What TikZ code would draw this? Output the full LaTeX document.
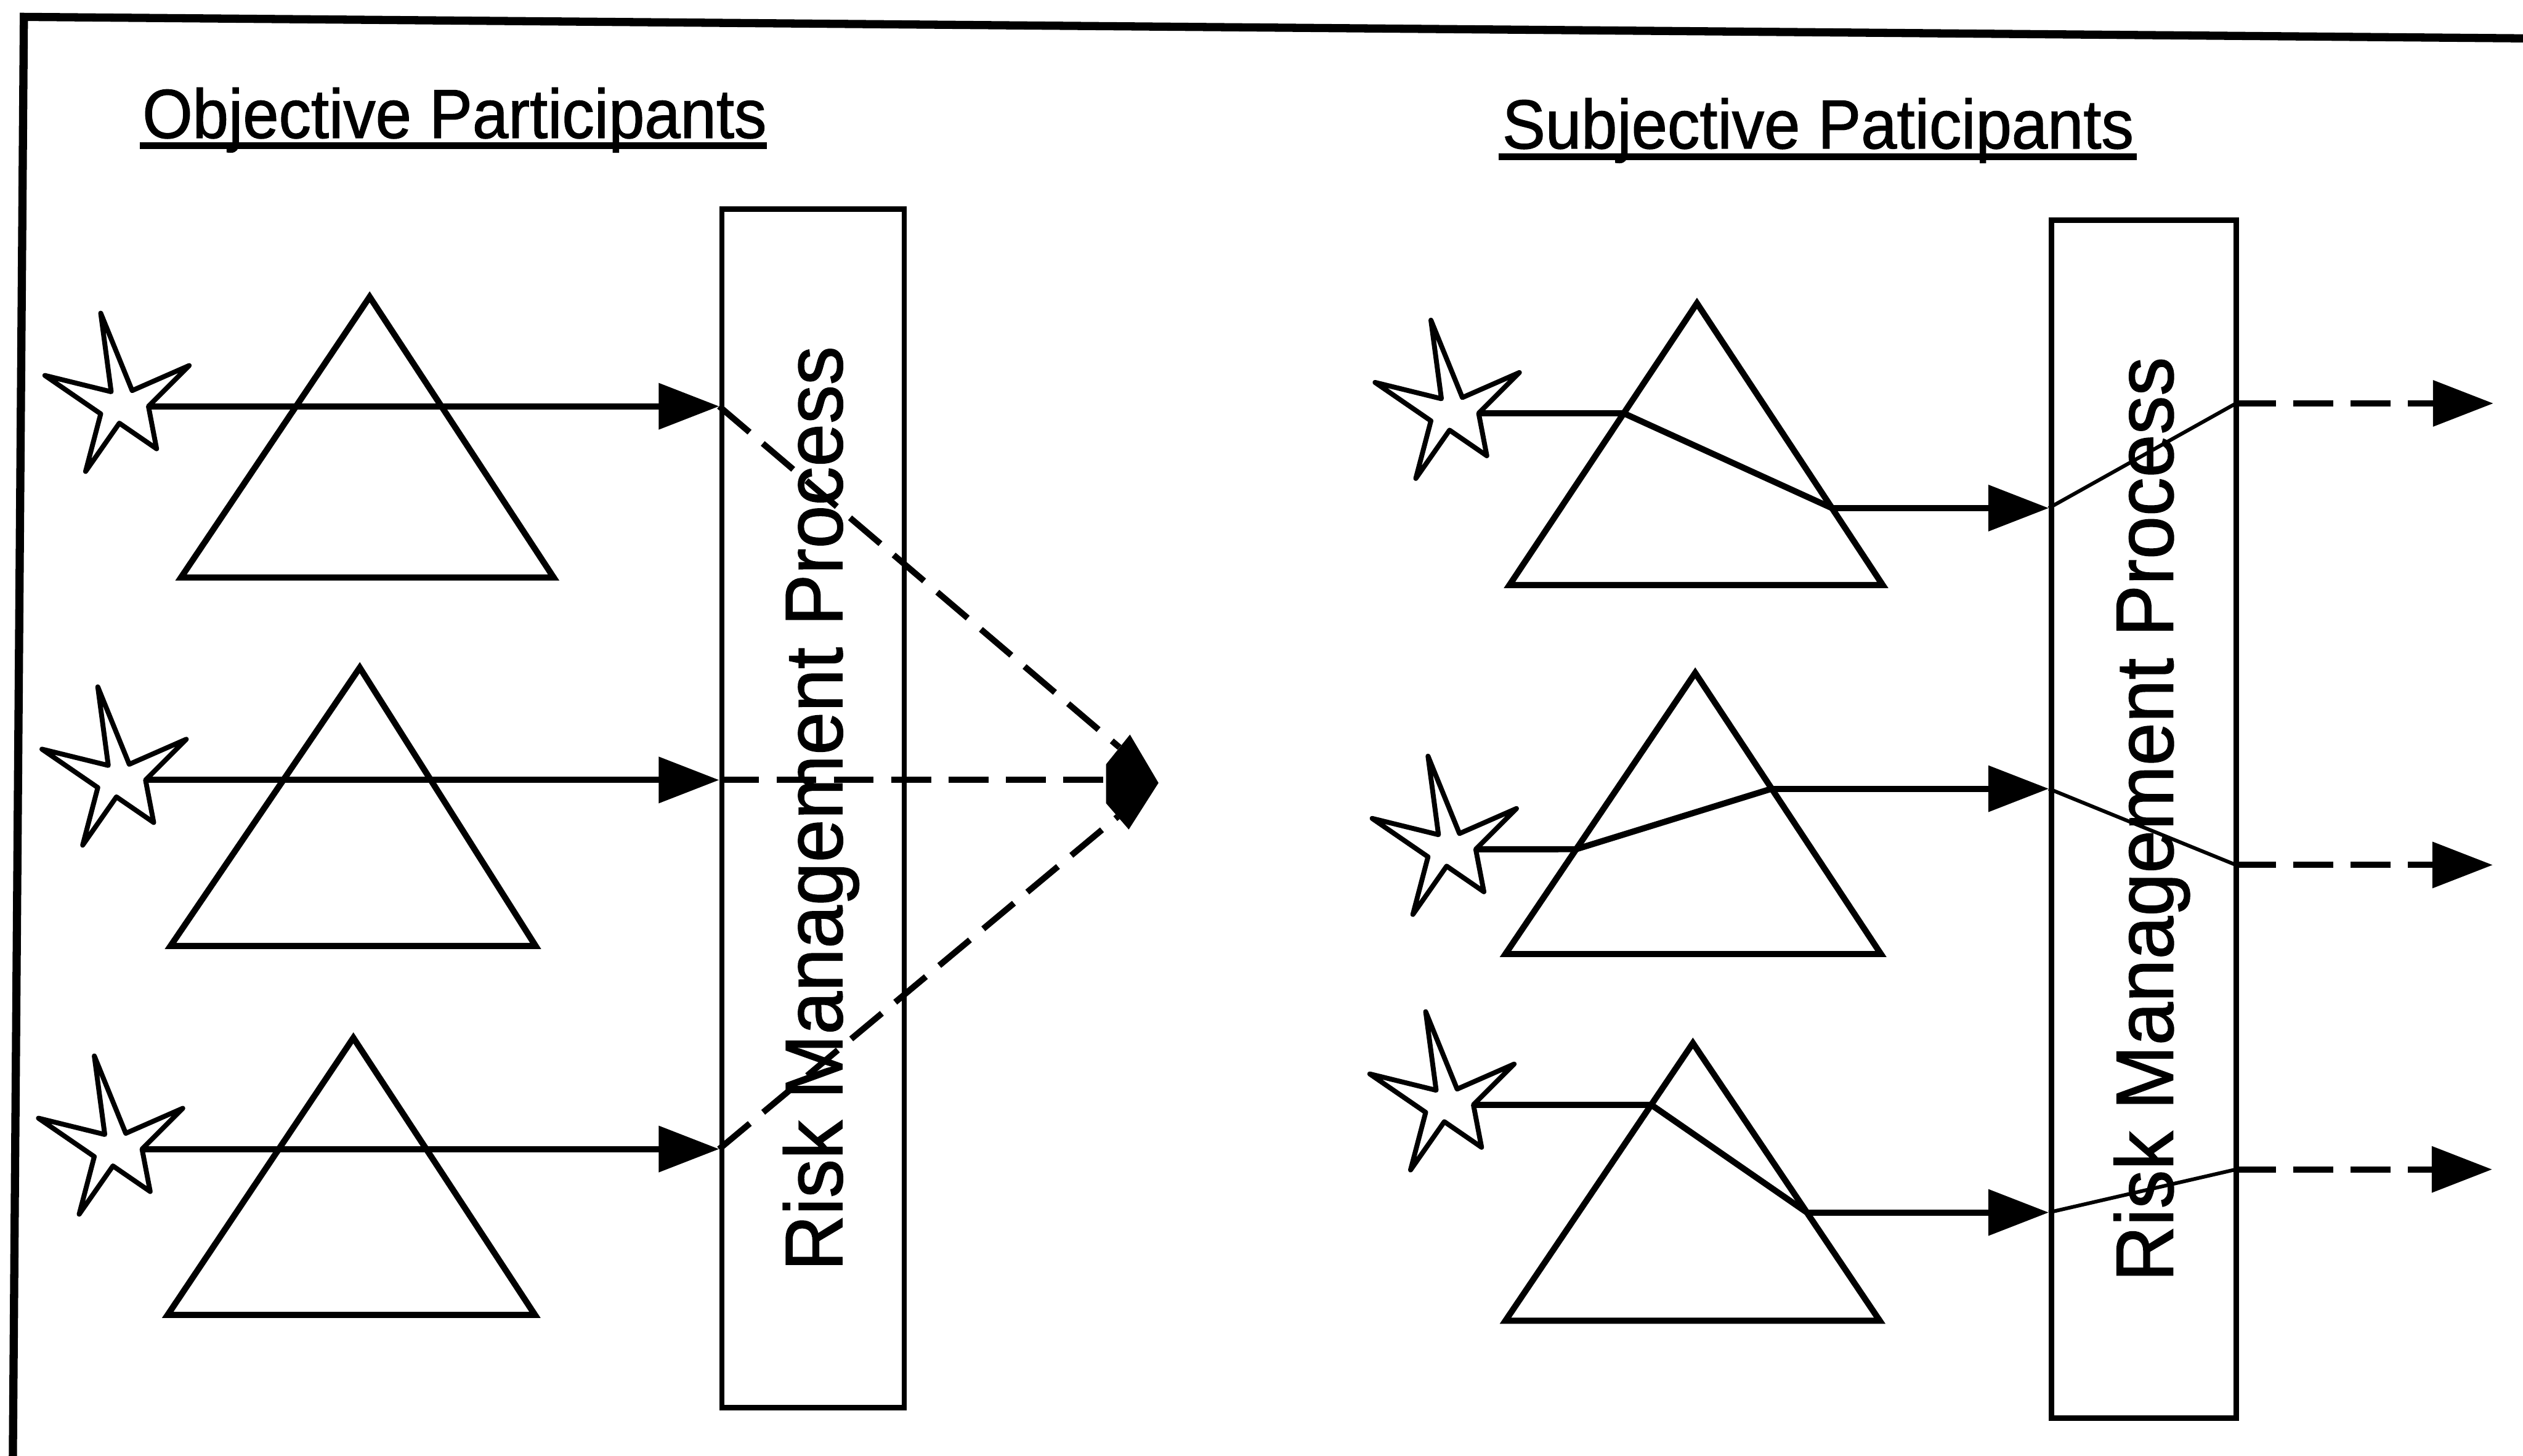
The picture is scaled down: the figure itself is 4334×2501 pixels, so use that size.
\documentclass[tikz,border=0pt]{standalone}
\usepackage{fontspec}
\usepackage{graphicx}
\usetikzlibrary{arrows.meta,calc}
\newfontfamily\helv{Liberation Sans}[FakeBold=1.2]

\begin{document}
\begin{tikzpicture}[x=0.01cm,y=-0.01cm,
  frameline/.style={line width=4pt, line join=miter},
  boxline/.style={draw, line width=2.6pt, inner sep=0pt},
  prism/.style={line width=3pt, line join=miter},
  ray/.style={line width=3pt},
  thinray/.style={line width=1.8pt},
  dashray/.style={line width=3pt, dash pattern=on 19.5pt off 8.5pt},
  tip/.style={-{Triangle[length=29.5pt,width=22pt]}},
  starline/.style={line width=2.4pt, fill=white, line join=round},
  title/.style={inner sep=0pt, anchor=base west, font=\helv\fontsize{33.9pt}{40pt}\selectfont},
  rmptext/.style={inner sep=0pt, rotate=90, font=\helv\fontsize{39.8pt}{46pt}\selectfont, text height=1.0cm, text depth=0pt},
  uline/.style={line width=3.4pt},
  sparkle/.pic={
    \draw[starline] (-32,-157) -- (22,-24) -- (120,-67) -- (50,3) -- (64,76)
      -- (0,32) -- (-58,115) -- (-32,16) -- (-128,-50) -- (-14,-22) -- cycle;
    \coordinate (-out) at (50,3);
  }
]
\useasboundingbox (0,0) rectangle (4334,2501);

% outer frame (top and left sides)
\draw[frameline] (22,2515) -- (41,29) -- (4345,66);

% headings
\node[title] (tl) at (244,237) {\scalebox{0.93}[1]{Objective Participants}};
\draw[uline] ($(tl.base west)+(-4,13)$) -- ($(tl.base east)+(0,13)$);
\node[title] (tr) at (2580,255) {\scalebox{0.93}[1]{Subjective Paticipants}};
\draw[uline] ($(tr.base west)+(-6,14)$) -- ($(tr.base east)+(4,14)$);

% risk management process boxes
\node[boxline, minimum width=3.13cm, minimum height=20.58cm] (rmpL) at (1396.5,1389) {};
\node[rmptext] at (rmpL) {\scalebox{0.95}[1]{Risk Management Process}};
\node[boxline, minimum width=3.17cm, minimum height=20.57cm] (rmpR) at (3682.5,1407.5) {};
\node[rmptext] at (rmpR) {\scalebox{0.95}[1]{Risk Management Process}};

% ---------- objective side ----------
\coordinate (t1a) at (635,510);  \coordinate (t1l) at (311,992);  \coordinate (t1r) at (951,992);
\coordinate (t2a) at (618,1147); \coordinate (t2l) at (293,1625); \coordinate (t2r) at (920,1625);
\coordinate (t3a) at (607,1783); \coordinate (t3l) at (288,2259); \coordinate (t3r) at (919,2259);
\draw[prism] (t1a) -- (t1l) -- (t1r) -- cycle;
\draw[prism] (t2a) -- (t2l) -- (t2r) -- cycle;
\draw[prism] (t3a) -- (t3l) -- (t3r) -- cycle;

\pic (s1) at (205,695) {sparkle};
\pic (s2) at (200,1337) {sparkle};
\pic (s3) at (194,1971) {sparkle};

\draw[ray,tip] (s1-out) -- (s1-out -| rmpL.west) coordinate (h1);
\draw[ray,tip] (s2-out) -- (s2-out -| rmpL.west) coordinate (h2);
\draw[ray,tip] (s3-out) -- (s3-out -| rmpL.west) coordinate (h3);

% merging point
\coordinate (dm) at (1945,1343);
\begin{scope}[shift={(dm)}]
  \fill (-4,-81) -- (45,2) -- (-6,82) -- (-45,37) -- (-45,-30) -- cycle;
  \coordinate (dmU) at (-22,-59);
  \coordinate (dmW) at (-45,-3);
  \coordinate (dmD) at (-25,60);
\end{scope}

\draw[dashray] (h1) -- (dmU);
\draw[dashray] (h2) -- (h2 -| dmW);
\draw[dashray] (h3) -- (dmD);

% ---------- subjective side ----------
\coordinate (t4a) at (2915,521);  \coordinate (t4l) at (2593,1005); \coordinate (t4r) at (3234,1005);
\coordinate (t5a) at (2912,1156); \coordinate (t5l) at (2586,1639); \coordinate (t5r) at (3231,1639);
\coordinate (t6a) at (2908,1792); \coordinate (t6l) at (2586,2269); \coordinate (t6r) at (3229,2269);
\draw[prism] (t4a) -- (t4l) -- (t4r) -- cycle;
\draw[prism] (t5a) -- (t5l) -- (t5r) -- cycle;
\draw[prism] (t6a) -- (t6l) -- (t6r) -- cycle;

\pic (s4) at (2490,707) {sparkle};
\pic (s5) at (2485,1456) {sparkle};
\pic (s6) at (2481,1895) {sparkle};

% refraction points on the prism faces
\coordinate (e4) at ($(t4a)!0.3905!(t4l)$);
\coordinate (x4) at ($(t4a)!0.727!(t4r)$);
\coordinate (e5) at ($(t5a)!0.627!(t5l)$);
\coordinate (x5) at ($(t5a)!0.412!(t5r)$);
\coordinate (e6) at ($(t6a)!0.2222!(t6l)$);
\coordinate (x6) at ($(t6a)!0.61!(t6r)$);

% outputs of the process
\coordinate (o4) at (3841,693);  \coordinate (z4) at (4283,693);
\coordinate (o5) at (3841,1486); \coordinate (z5) at (4282,1486);
\coordinate (o6) at (3841,2009); \coordinate (z6) at (4281,2009);

\draw[ray] (s4-out) -- (e4) -- (x4);
\draw[ray,tip] (x4) -- (x4 -| rmpR.west) coordinate (g4);
\draw[thinray] (g4) -- (o4);
\draw[dashray,tip] (o4) -- (z4);

\draw[ray] (s5-out) -- (e5) -- (x5);
\draw[ray,tip] (x5) -- (x5 -| rmpR.west) coordinate (g5);
\draw[thinray] (g5) -- (o5);
\draw[dashray,tip] (o5) -- (z5);

\draw[ray] (s6-out) -- (e6) -- (x6);
\draw[ray,tip] (x6) -- (x6 -| rmpR.west) coordinate (g6);
\draw[thinray] (g6) -- (o6);
\draw[dashray,tip] (o6) -- (z6);
\end{tikzpicture}
\end{document}
